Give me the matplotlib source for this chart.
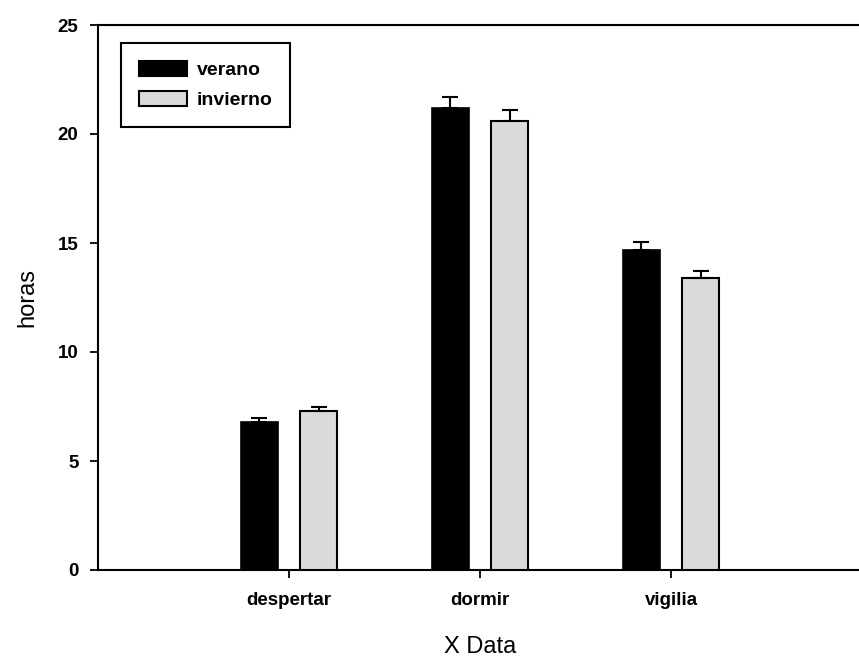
import matplotlib
matplotlib.use("Agg")
import matplotlib.pyplot as plt
import numpy as np

categories = ["despertar", "dormir", "vigilia"]
verano = [6.8, 21.2, 14.7]
verano_err = [0.15, 0.5, 0.33]
invierno = [7.3, 20.6, 13.4]
invierno_err = [0.2, 0.5, 0.33]
y_ticks = [0, 5, 10, 15, 20, 25]

plt.rcParams['font.family'] = ['Liberation Sans', 'DejaVu Sans']

W, H = 859, 658
fig = plt.figure(figsize=(W / 100, H / 100), dpi=100)
ax = fig.add_axes([98 / W, (H - 570) / H, 764 / W, 545 / H])

x = np.arange(1, len(categories) + 1)
off = 0.155
bw = 0.19
zeros = np.zeros(len(categories))
ax.bar(x - off, verano, bw, color='black', edgecolor='black', linewidth=1.2,
       yerr=[zeros, verano_err], capsize=6,
       error_kw=dict(ecolor='black', elinewidth=1.5, capthick=1.5), label='verano', zorder=3)
ax.bar(x + off, invierno, bw, color='#dadada', edgecolor='black', linewidth=1.5,
       yerr=[zeros, invierno_err], capsize=6,
       error_kw=dict(ecolor='black', elinewidth=1.5, capthick=1.5), label='invierno', zorder=3)

ax.set_xlim(0, 4)
ax.set_ylim(0, 25)
ax.set_yticks(y_ticks)
ax.set_yticklabels([str(t) for t in y_ticks], fontsize=13.5, fontweight='bold')
ax.set_xticks(x)
ax.set_xticklabels(categories, fontsize=13.5, fontweight='bold')
ax.tick_params(axis='both', direction='out', length=6, width=1.3, color='black')
ax.tick_params(axis='y', pad=8)
ax.tick_params(axis='x', pad=10)

for s in ['left', 'bottom', 'top']:
    ax.spines[s].set_linewidth(1.5)
ax.spines['right'].set_visible(False)

ax.set_ylabel('horas', fontsize=17, labelpad=14)
ax.set_xlabel('X Data', fontsize=17, labelpad=19)

leg = ax.legend(loc='upper left', bbox_to_anchor=(121 / W, 1 - 43 / H),
                bbox_transform=fig.transFigure, borderaxespad=0,
                fancybox=False, framealpha=1, edgecolor='black',
                prop=dict(size=14, weight='bold'), handlelength=2.5,
                handleheight=0.85, handletextpad=0.5, labelspacing=0.6,
                borderpad=0.9)
leg.get_frame().set_linewidth(1.5)
for p in leg.get_patches():
    p.set_linewidth(1.5)

fig.savefig('out.png', dpi=100)
